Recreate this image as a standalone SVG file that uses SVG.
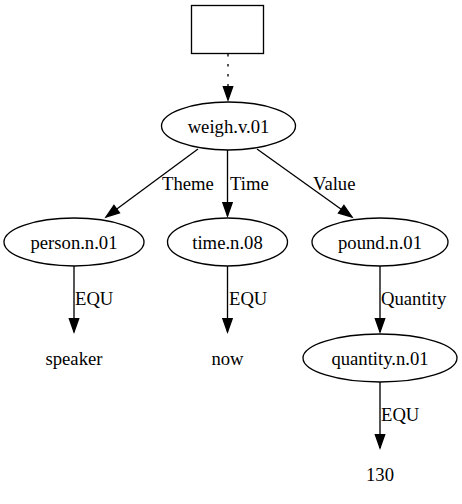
<svg xmlns="http://www.w3.org/2000/svg" width="462" height="504" viewBox="0 0 462 504" font-family="'Liberation Serif', 'DejaVu Serif', serif" font-size="18.67">
<style>
text{fill:#000}
.n{text-anchor:middle}
.shape{fill:none;stroke:#000;stroke-width:1.33}
.e{fill:none;stroke:#000;stroke-width:1.33}
</style>
<defs>
<marker id="ah" markerUnits="userSpaceOnUse" markerWidth="14" markerHeight="10" refX="13.3" refY="4.67" orient="auto" overflow="visible">
<path d="M0,0 L13.3,4.67 L0,9.33 Z" fill="#000" stroke="#000" stroke-width="1.33"/>
</marker>
</defs>
<rect width="462" height="504" fill="#fff"/>
<g id="edges">
<path class="e" d="M228,54 L228,100" stroke-dasharray="2.5,7.5" marker-end="url(#ah)"/>
<path class="e" d="M198,149 L106,217" marker-end="url(#ah)"/>
<text x="162" y="190">Theme</text>
<path class="e" d="M227.5,150 L227.5,216" marker-end="url(#ah)"/>
<text x="230" y="190">Time</text>
<path class="e" d="M257,149 L352,217" marker-end="url(#ah)"/>
<text x="313" y="190">Value</text>
<path class="e" d="M74,266 L74,332" marker-end="url(#ah)"/>
<text x="75" y="305">EQU</text>
<path class="e" d="M227.5,266 L227.5,332" marker-end="url(#ah)"/>
<text x="229" y="305">EQU</text>
<path class="e" d="M380,266 L380,332" marker-end="url(#ah)"/>
<text x="381" y="305">Quantity</text>
<path class="e" d="M380,382 L380,448" marker-end="url(#ah)"/>
<text x="381" y="421">EQU</text>
</g>
<g id="root"><rect class="shape" x="191.5" y="5.5" width="72" height="48"/></g>
<g id="weigh"><ellipse class="shape" cx="228.5" cy="126" rx="67" ry="24"/><text class="n" x="228.5" y="132.5">weigh.v.01</text></g>
<g id="person"><ellipse class="shape" cx="74" cy="242" rx="70" ry="24"/><text class="n" x="74" y="248.5">person.n.01</text></g>
<g id="time"><ellipse class="shape" cx="227.5" cy="242" rx="60" ry="24"/><text class="n" x="227.5" y="248.5">time.n.08</text></g>
<g id="pound"><ellipse class="shape" cx="380" cy="242" rx="68" ry="24"/><text class="n" x="380" y="248.5">pound.n.01</text></g>
<g id="quantity"><ellipse class="shape" cx="380" cy="358" rx="77" ry="24"/><text class="n" x="380" y="364.5">quantity.n.01</text></g>
<g id="speaker"><text class="n" x="74" y="364.5">speaker</text></g>
<g id="now"><text class="n" x="227.5" y="364.5">now</text></g>
<g id="n130"><text class="n" x="380" y="480.5">130</text></g>
</svg>
